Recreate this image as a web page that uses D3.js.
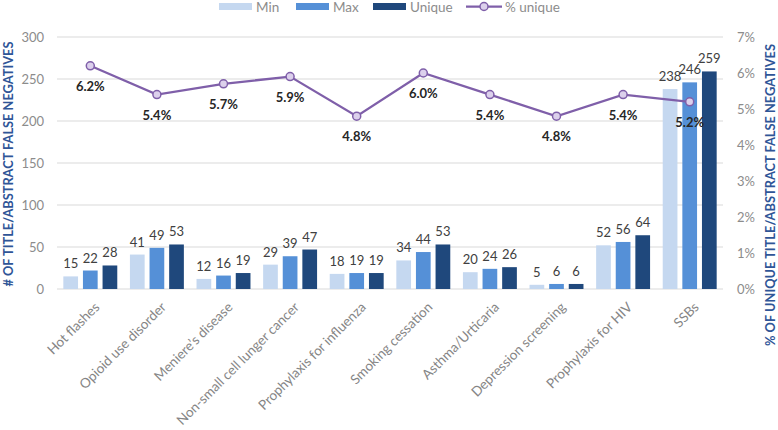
<!DOCTYPE html>
<html>
<head>
<meta charset="utf-8">
<script src="https://cdn.jsdelivr.net/npm/d3@7"></script>
<style>
  html, body { margin: 0; padding: 0; background: #fff; }
  svg { display: block; font-family: Lato, "Open Sans", sans-serif; }
</style>
</head>
<body>
<svg id="chart" width="778" height="430"></svg>
<script>
const categories = ["Hot flashes", "Opioid use disorder", "Meniere\u2019s disease", "Non-small cell lunger cancer",
  "Prophylaxis for influenza", "Smoking cessation", "Asthma/Urticaria", "Depression screening",
  "Prophylaxis for HIV", "SSBs"];
const minValues = [15, 41, 12, 29, 18, 34, 20, 5, 52, 238];
const maxValues = [22, 49, 16, 39, 19, 44, 24, 6, 56, 246];
const uniqueValues = [28, 53, 19, 47, 19, 53, 26, 6, 64, 259];
const pctUnique = [6.2, 5.4, 5.7, 5.9, 4.8, 6.0, 5.4, 4.8, 5.4, 5.2];
const seriesNames = ["Min", "Max", "Unique"];
const lineName = "% unique";
const leftTicks = [0, 50, 100, 150, 200, 250, 300];
const rightTicks = [0, 1, 2, 3, 4, 5, 6, 7];
const leftTitle = "# OF TITLE/ABSTRACT FALSE NEGATIVES";
const rightTitle = "% OF UNIQUE TITLE/ABSTRACT FALSE NEGATIVES";

const colors = { Min: "#c5d8f0", Max: "#5590d7", Unique: "#1f487c" };
const lineColor = "#7f5fa9";
const markerFill = "#dcd0ec";

const svg = d3.select("#chart");
const plot = { left: 57, right: 723, top: 37, bottom: 289 };

const x = d3.scaleBand().domain(categories).range([plot.left, plot.right]).paddingInner(0.19).paddingOuter(0.095);
const xs = d3.scaleBand().domain(seriesNames).range([0, x.bandwidth()]).paddingInner(0.25);
const yL = d3.scaleLinear().domain([0, 300]).range([plot.bottom, plot.top]);
const yR = d3.scaleLinear().domain([0, 7]).range([plot.bottom, plot.top]);

// gridlines
svg.append("g").selectAll("line").data(leftTicks).join("line")
  .attr("x1", plot.left).attr("x2", plot.right)
  .attr("y1", d => yL(d)).attr("y2", d => yL(d))
  .attr("stroke", "#d9d9d9").attr("stroke-width", 1);

// left axis
const gL = svg.append("g").attr("transform", `translate(${plot.left},0)`)
  .call(d3.axisLeft(yL).tickValues(leftTicks).tickSize(0).tickPadding(13));
gL.select(".domain").remove();
gL.selectAll("text").attr("fill", "#8c8c8c").style("font-size", "13px").style("font-family", "Lato, sans-serif");

// right axis
const gR = svg.append("g").attr("transform", `translate(${plot.right},0)`)
  .call(d3.axisRight(yR).tickValues(rightTicks).tickFormat(d => d + "%").tickSize(0).tickPadding(14));
gR.select(".domain").remove();
gR.selectAll("text").attr("fill", "#8c8c8c").style("font-size", "13px").style("font-family", "Lato, sans-serif");

// x axis labels
const gX = svg.append("g").attr("transform", `translate(0,${plot.bottom})`)
  .call(d3.axisBottom(x).tickSize(0).tickPadding(0));
gX.select(".domain").remove();
gX.selectAll("text")
  .attr("fill", "#858585").style("font-size", "13.5px").style("font-family", "Lato, sans-serif")
  .attr("text-anchor", "end").attr("dy", "0")
  .attr("transform", "translate(10,19) rotate(-45)");

// bars
const seriesData = [minValues, maxValues, uniqueValues];
seriesNames.forEach((s, si) => {
  const vals = seriesData[si];
  const g = svg.append("g");
  g.selectAll("rect").data(categories).join("rect")
    .attr("x", c => x(c) + xs(s))
    .attr("width", xs.bandwidth())
    .attr("y", (c, i) => yL(vals[i]))
    .attr("height", (c, i) => yL(0) - yL(vals[i]))
    .attr("fill", colors[s]);
  g.selectAll("text").data(categories).join("text")
    .attr("x", c => x(c) + xs(s) + xs.bandwidth() / 2)
    .attr("y", (c, i) => yL(vals[i]) - 8)
    .attr("text-anchor", "middle")
    .attr("fill", "#404040")
    .style("font-size", "13px")
    .text((c, i) => vals[i]);
});

// line
const cx = c => x(c) + x.bandwidth() / 2;
const line = d3.line().x((d, i) => cx(categories[i])).y(d => yR(d));
svg.append("path").datum(pctUnique).attr("d", line)
  .attr("fill", "none").attr("stroke", lineColor).attr("stroke-width", 2.25);
svg.append("g").selectAll("circle").data(pctUnique).join("circle")
  .attr("cx", (d, i) => cx(categories[i])).attr("cy", d => yR(d)).attr("r", 4)
  .attr("fill", markerFill).attr("stroke", lineColor).attr("stroke-width", 1.5);
svg.append("g").selectAll("text").data(pctUnique).join("text")
  .attr("x", (d, i) => cx(categories[i])).attr("y", d => yR(d) + 25)
  .attr("text-anchor", "middle").attr("fill", "#262626")
  .style("font-size", "13px").style("font-weight", "bold")
  .text(d => d.toFixed(1) + "%");

// axis titles
svg.append("text")
  .attr("transform", `translate(13,164) rotate(-90)`)
  .attr("text-anchor", "middle").attr("fill", "#2f5597")
  .style("font-size", "12.5px").style("font-weight", "bold")
  .attr("textLength", 245).attr("lengthAdjust", "spacingAndGlyphs")
  .text(leftTitle);
svg.append("text")
  .attr("transform", `translate(775,195) rotate(-90)`)
  .attr("text-anchor", "middle").attr("fill", "#2f5597")
  .style("font-size", "12.5px").style("font-weight", "bold")
  .attr("textLength", 302).attr("lengthAdjust", "spacingAndGlyphs")
  .text(rightTitle);

// legend
const leg = svg.append("g");
const legItems = [
  { name: seriesNames[0], x: 219 },
  { name: seriesNames[1], x: 296 },
  { name: seriesNames[2], x: 373 }
];
legItems.forEach(it => {
  leg.append("rect").attr("x", it.x).attr("y", 3).attr("width", 33).attr("height", 7).attr("fill", colors[it.name]);
  leg.append("text").attr("x", it.x + 37).attr("y", 12).attr("fill", "#8c8c8c")
    .style("font-size", "13.5px").text(it.name);
});
leg.append("line").attr("x1", 466).attr("x2", 502).attr("y1", 6.5).attr("y2", 6.5)
  .attr("stroke", lineColor).attr("stroke-width", 2.25);
leg.append("circle").attr("cx", 484).attr("cy", 6.5).attr("r", 4)
  .attr("fill", markerFill).attr("stroke", lineColor).attr("stroke-width", 1.5);
leg.append("text").attr("x", 505).attr("y", 12).attr("fill", "#8c8c8c")
  .style("font-size", "13.5px").text(lineName);
</script>
</body>
</html>
